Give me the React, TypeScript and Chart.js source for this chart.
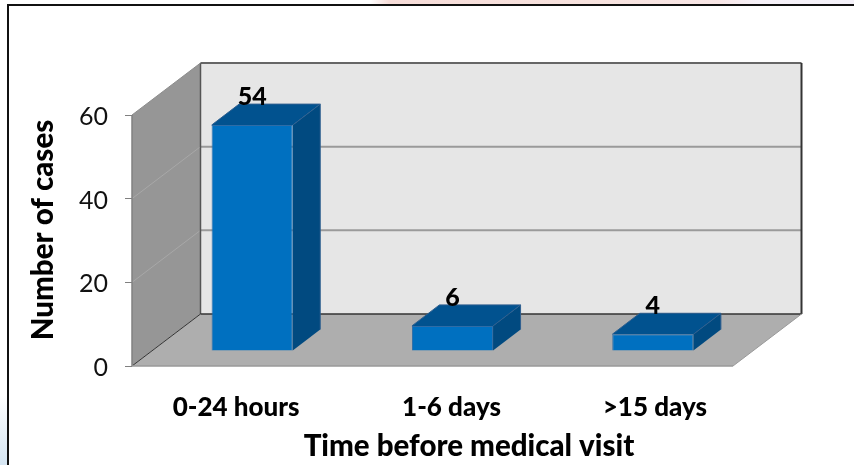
import React, { useEffect, useRef } from "react";
import { Chart, registerables } from "chart.js";

Chart.register(...registerables);

const categories = ["0-24 hours", "1-6 days", ">15 days"];
const caseCounts = [54, 6, 4];
const yTicks = [0, 20, 40, 60];
const xAxisTitle = "Time before medical visit";
const yAxisTitle = "Number of cases";

const FONT = "Lato, 'Open Sans', sans-serif";
const WALL_DEPTH = { x: 68.5, y: -52 };
const BAR_SHIFT = { x: 20, y: -15 };
const BAR_DEPTH = { x: 27.5, y: -21 };
const CATEGORY_LABEL_SHIFT = [4, 19, 22];

type Pt = [number, number];

function poly(ctx: CanvasRenderingContext2D, pts: Pt[], fill: string | CanvasGradient) {
  ctx.beginPath();
  pts.forEach(([x, y], i) => (i ? ctx.lineTo(x, y) : ctx.moveTo(x, y)));
  ctx.closePath();
  ctx.fillStyle = fill;
  ctx.fill();
}

function line(ctx: CanvasRenderingContext2D, a: Pt, b: Pt, color: string, width: number) {
  ctx.beginPath();
  ctx.moveTo(a[0], a[1]);
  ctx.lineTo(b[0], b[1]);
  ctx.strokeStyle = color;
  ctx.lineWidth = width;
  ctx.stroke();
}

// Page backdrop, outer frame and the pseudo-3D walls behind the bars.
const stagePlugin = {
  id: "stage",
  beforeDraw(chart: any) {
    const { ctx, chartArea, scales, width, height } = chart;
    const { left, right, top, bottom } = chartArea;
    const d = WALL_DEPTH;
    ctx.save();

    const topBand = ctx.createLinearGradient(370, 0, width, 0);
    topBand.addColorStop(0, "#ffffff");
    topBand.addColorStop(0.04, "#f6dcd8");
    topBand.addColorStop(0.45, "#f7e2de");
    topBand.addColorStop(0.72, "#f8e6e6");
    topBand.addColorStop(0.8, "#f6f1f8");
    topBand.addColorStop(1, "#f4f1f9");
    ctx.fillStyle = topBand;
    ctx.fillRect(370, 0, width - 370, 4);

    const leftBand = ctx.createLinearGradient(0, 395, 0, height);
    leftBand.addColorStop(0, "#ffffff");
    leftBand.addColorStop(1, "#d5e5f2");
    ctx.fillStyle = leftBand;
    ctx.fillRect(0, 395, 7, height - 395);

    line(ctx, [7, 5], [width, 5], "#111111", 2);
    line(ctx, [8, 4], [8, height], "#111111", 2);

    poly(ctx, [[left + d.x, top + d.y], [right + d.x, top + d.y], [right + d.x, bottom + d.y], [left + d.x, bottom + d.y]], "#e6e6e6");
    poly(ctx, [[left, bottom], [left, top], [left + d.x, top + d.y], [left + d.x, bottom + d.y]], "#969696");
    poly(ctx, [[left, bottom], [right, bottom], [right + d.x, bottom + d.y], [left + d.x, bottom + d.y]], "#aeaeae");

    // Gridlines wrap from the side wall onto the back wall.
    for (const v of yTicks) {
      if (v === 0 || v === 60) continue;
      const y = scales.y.getPixelForValue(v);
      line(ctx, [left, y], [left + d.x, y + d.y], "#a8a8a8", 1);
      line(ctx, [left + d.x, y + d.y], [right + d.x, y + d.y], "#9a9a9a", 2);
    }

    line(ctx, [left + d.x, top + d.y], [right + d.x, top + d.y], "#666666", 2);
    line(ctx, [right + d.x, top + d.y], [right + d.x, bottom + d.y], "#333333", 2);
    line(ctx, [left + d.x, top + d.y], [left + d.x, bottom + d.y], "#555555", 1.5);
    line(ctx, [left, top], [left + d.x, top + d.y], "#8c8c8c", 1);
    line(ctx, [left + d.x, bottom + d.y], [right + d.x, bottom + d.y], "#333333", 1.5);
    line(ctx, [left, bottom], [left + d.x, bottom + d.y], "#333333", 1);
    line(ctx, [left, bottom], [left, top], "#808080", 1.5);
    line(ctx, [left, bottom], [right, bottom], "#999999", 1.5);
    line(ctx, [right, bottom], [right + d.x, bottom + d.y], "#999999", 1);

    ctx.restore();
  },
  beforeDatasetDraw(chart: any) {
    const { ctx } = chart;
    const meta = chart.getDatasetMeta(0);
    ctx.save();
    ctx.translate(BAR_SHIFT.x, BAR_SHIFT.y);
    // Top and side faces of each bar, built from the bar's own geometry.
    for (const bar of meta.data) {
      const l = bar.x - bar.width / 2;
      const r = bar.x + bar.width / 2;
      const b = BAR_DEPTH;
      poly(ctx, [[l, bar.y], [r, bar.y], [r + b.x, bar.y + b.y], [l + b.x, bar.y + b.y]], "#01528f");
      poly(ctx, [[r, bar.y], [r + b.x, bar.y + b.y], [r + b.x, bar.base + b.y], [r, bar.base]], "#014a80");
      line(ctx, [r, bar.y], [r + b.x, bar.y + b.y], "#2f5f8f", 1);
      line(ctx, [r + b.x, bar.y + b.y], [r + b.x, bar.base + b.y], "#2f5f8f", 1);
      line(ctx, [l, bar.y], [l + b.x, bar.y + b.y], "#2f5f8f", 1);
      line(ctx, [l + b.x, bar.y + b.y], [r + b.x, bar.y + b.y], "#2f5f8f", 1);
    }
  },
  afterDatasetDraw(chart: any) {
    chart.ctx.restore();
  },
  afterDraw(chart: any) {
    const { ctx, chartArea, scales } = chart;
    const meta = chart.getDatasetMeta(0);
    ctx.save();
    ctx.fillStyle = "#000000";
    ctx.textAlign = "center";
    ctx.textBaseline = "middle";

    // Value labels above the bars.
    ctx.font = `900 25px ${FONT}`;
    meta.data.forEach((bar: any, i: number) => {
      ctx.fillText(String(caseCounts[i]), bar.x + BAR_SHIFT.x, bar.y + BAR_SHIFT.y - 28);
    });

    // Category labels.
    ctx.font = `900 26px ${FONT}`;
    meta.data.forEach((bar: any, i: number) => {
      ctx.fillText(categories[i], bar.x + CATEGORY_LABEL_SHIFT[i], chartArea.bottom + 42);
    });

    // Axis titles.
    ctx.font = `900 29.5px ${FONT}`;
    ctx.fillText(xAxisTitle, 469, 446);
    ctx.save();
    ctx.translate(43, 230);
    ctx.rotate(-Math.PI / 2);
    ctx.fillText(yAxisTitle, 0, 0);
    ctx.restore();

    // Value-axis labels sit slightly below their tick marks.
    ctx.font = `25px ${FONT}`;
    ctx.fillStyle = "#111111";
    ctx.textAlign = "right";
    for (const tick of scales.y.ticks) {
      ctx.fillText(String(tick.value), 108, scales.y.getPixelForValue(tick.value) + 2);
    }
    ctx.restore();
  },
};

export default function App() {
  const canvasRef = useRef<HTMLCanvasElement>(null);

  useEffect(() => {
    document.body.style.margin = "0";
    const chart = new Chart(canvasRef.current!, {
      type: "bar",
      data: {
        labels: categories,
        datasets: [
          {
            data: caseCounts,
            backgroundColor: "#0070c0",
            borderColor: "#2e6ca6",
            borderWidth: 1,
            barPercentage: 0.405,
            categoryPercentage: 1,
          },
        ],
      },
      plugins: [stagePlugin],
      options: {
        responsive: false,
        animation: false,
        devicePixelRatio: 1,
        layout: { padding: { top: 115, right: 121, bottom: 0, left: 0 } },
        plugins: { legend: { display: false }, tooltip: { enabled: false } },
        scales: {
          x: {
            grid: { display: false },
            border: { display: false },
            ticks: { display: false },
            afterFit: (scale: any) => {
              scale.height = 99;
            },
          },
          y: {
            min: 0,
            max: 60,
            grid: { drawOnChartArea: false, color: "#808080", tickLength: 7 },
            border: { display: false },
            ticks: { stepSize: 20, display: false },
            afterFit: (scale: any) => {
              scale.width = 132;
            },
          },
        },
      },
    });
    return () => chart.destroy();
  }, []);

  return <canvas ref={canvasRef} width={854} height={465} style={{ display: "block" }} />;
}
